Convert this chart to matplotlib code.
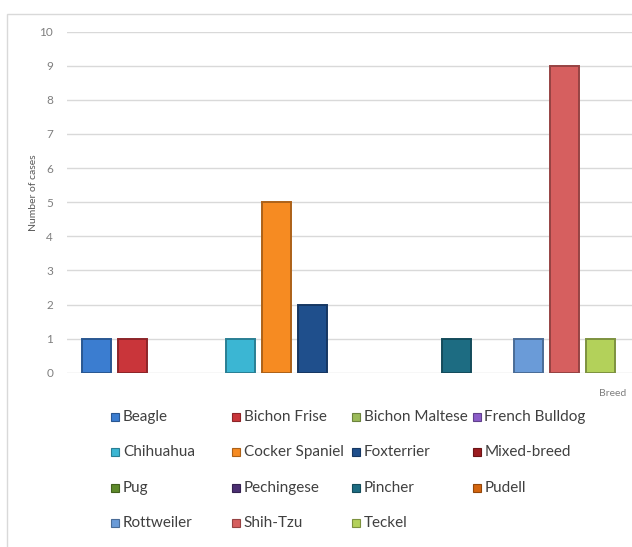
import matplotlib.pyplot as plt
from matplotlib.patches import Rectangle
import numpy as np

breeds = ['Beagle', 'Bichon Frise', 'Bichon Maltese', 'French Bulldog',
          'Chihuahua', 'Cocker Spaniel', 'Foxterrier', 'Mixed-breed',
          'Pug', 'Pechingese', 'Pincher', 'Pudell',
          'Rottweiler', 'Shih-Tzu', 'Teckel']
cases = [1, 1, 0, 0, 1, 5, 2, 0, 0, 0, 1, 0, 1, 9, 1]
colors = ['#3B7DD0', '#C9353A', '#9BBB59', '#8B5CC8',
          '#3BB6D3', '#F68B22', '#1F4F8C', '#9B1C20',
          '#5E8A2A', '#4B2F72', '#1D6C82', '#D4650E',
          '#6A9BD8', '#D65F5F', '#B3D15A']
y_ticks = list(range(0, 11))

W, H = 632, 547
plt.rcParams['font.family'] = ['Lato', 'DejaVu Sans']


def fx(x):
    return x / W


def fy(y):
    return 1 - y / H


def darker(c, f=0.7):
    r, g, b = (int(c[i:i + 2], 16) / 255 for i in (1, 3, 5))
    return (r * f, g * f, b * f)


fig = plt.figure(figsize=(W / 100, H / 100), dpi=100)

# light chart frame (cropped on the right and bottom)
fig.patches.append(Rectangle((fx(7), -0.1), 1.2, fy(14) + 0.1, transform=fig.transFigure,
                             fill=False, edgecolor='#d9d9d9', lw=1))

ax = fig.add_axes([fx(67), fy(372.7), fx(632) - fx(67), fy(31.7) - fy(372.7)])
x = np.arange(len(breeds))
for i, (v, c) in enumerate(zip(cases, colors)):
    if v > 0:
        ax.bar(x[i], v, width=0.8, color=c, edgecolor=darker(c), linewidth=1.4, zorder=3)

ax.set_xlim(-0.82, 14.87)
ax.set_ylim(0, 10)
ax.set_yticks(y_ticks)
ax.set_xticks([])
ax.grid(axis='y', color='#d9d9d9', linewidth=1, zorder=0)
for s in ax.spines.values():
    s.set_visible(False)
ax.tick_params(axis='y', length=0, pad=10, labelsize=8.5, labelcolor='#7f7f7f')

fig.text(fx(33), fy(193), 'Number of cases', rotation=90, ha='center', va='center',
         fontsize=7.5, color='#595959')
fig.text(fx(626), fy(394), 'Breed', ha='right', va='center', fontsize=7.5, color='#7f7f7f')

# legend laid out row by row like the original
for i, (name, c) in enumerate(zip(breeds, colors)):
    row, col = divmod(i, 4)
    lx = 115 + 120.5 * col
    ly = 417 + 35.3 * row
    fig.patches.append(Rectangle((fx(lx - 4), fy(ly + 4)), 8 / W, 8 / H, transform=fig.transFigure,
                                 facecolor=c, edgecolor=darker(c), lw=0.8))
    fig.text(fx(lx + 8), fy(ly), name, ha='left', va='center', fontsize=11, color='#404040')

plt.savefig('out.png', dpi=100)
